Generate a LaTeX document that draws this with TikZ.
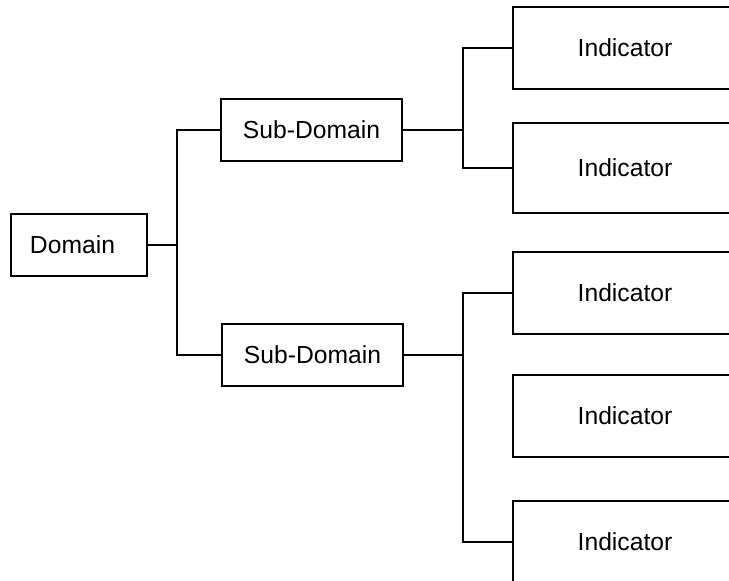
\documentclass[tikz,border=0pt]{standalone}
\usepackage{fontspec}
\setmainfont{Liberation Sans}
\begin{document}
\begin{tikzpicture}[x=0.75pt,y=-0.75pt,
  box/.style={draw=black,line width=1.2pt,inner sep=0pt,font=\fontsize{18.5}{22}\selectfont},
  link/.style={draw=black,line width=1.2pt}]
\useasboundingbox (0,0) rectangle (729,581);
\clip (0,0) rectangle (729,581);
\node[box,minimum width=136*0.75pt,minimum height=62*0.75pt,text width=98*0.75pt,inner xsep=19*0.75pt,align=left] (D) at (79,245) {Domain};
\node[box,minimum width=181*0.75pt,minimum height=62*0.75pt] (S1) at (311.5,130) {Sub-Domain};
\node[box,minimum width=181*0.75pt,minimum height=62*0.75pt] (S2) at (312.5,355) {Sub-Domain};
\node[box,minimum width=224*0.75pt,minimum height=82*0.75pt] (I1) at (625,48) {Indicator};
\node[box,minimum width=224*0.75pt,minimum height=90*0.75pt] (I2) at (625,168) {Indicator};
\node[box,minimum width=224*0.75pt,minimum height=82*0.75pt] (I3) at (625,293) {Indicator};
\node[box,minimum width=224*0.75pt,minimum height=82*0.75pt] (I4) at (625,416) {Indicator};
\node[box,minimum width=224*0.75pt,minimum height=82*0.75pt] (I5) at (625,542) {Indicator};
\coordinate (j0) at (177,245);
\coordinate (j1) at (463,130);
\coordinate (j2) at (463,355);
\draw[link] (D.east) -- (j0);
\draw[link] (S1.west) -| (j0) |- (S2.west);
\draw[link] (S1.east) -- (j1);
\draw[link] (I1.west) -| (j1) |- (I2.west);
\draw[link] (S2.east) -- (j2);
\draw[link] (I3.west) -| (j2) |- (I5.west);
\end{tikzpicture}
\end{document}
